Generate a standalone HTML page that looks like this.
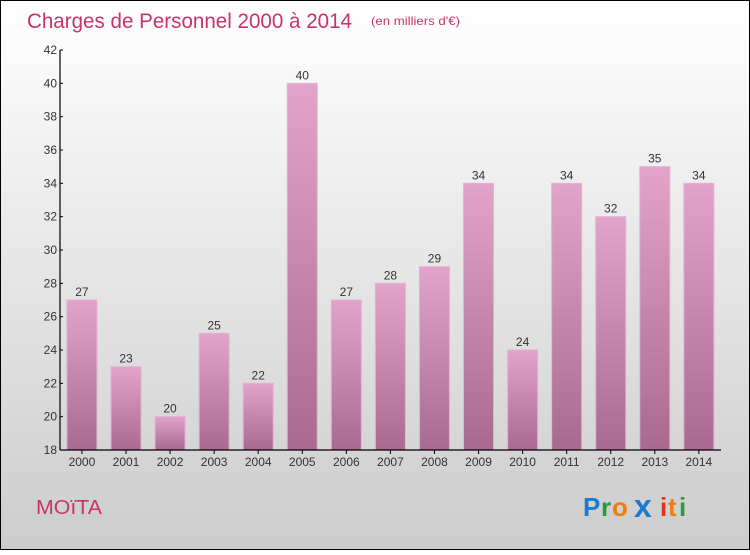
<!DOCTYPE html>
<html><head><meta charset="utf-8"><style>
html,body{margin:0;padding:0}
body{width:750px;height:550px;overflow:hidden;font-family:"Liberation Sans",sans-serif}
</style></head><body>
<svg width="750" height="550" xmlns="http://www.w3.org/2000/svg">
<defs>
<linearGradient id="bg" x1="0" y1="0" x2="0" y2="1"><stop offset="0" stop-color="#ffffff"/><stop offset="1" stop-color="#cccccc"/></linearGradient>
<linearGradient id="bar" x1="0" y1="0" x2="0" y2="1"><stop offset="0" stop-color="#e2a4cb"/><stop offset="1" stop-color="#a86a90"/></linearGradient>
</defs>
<rect x="0.5" y="0.5" width="749" height="549" fill="url(#bg)" stroke="#000"/>
<text x="27" y="28" font-size="21" fill="#c8336b" textLength="325" lengthAdjust="spacingAndGlyphs">Charges de Personnel 2000 à 2014</text>
<text x="371" y="25" font-size="12" fill="#c8336b" textLength="89" lengthAdjust="spacingAndGlyphs">(en milliers d'€)</text>
<g id="bars"></g>
<g id="axes"></g>
<text x="36" y="514" font-size="20" fill="#c8336b" textLength="66" lengthAdjust="spacingAndGlyphs">MOïTA</text>
<g font-size="26" font-weight="bold">
<text x="583" y="516" fill="#1a7bd0">P</text><text x="601" y="516" fill="#2a9a3a">r</text><text x="612" y="516" fill="#f07d10">o</text><text x="634" y="517" fill="#1a7bd0" font-size="32">x</text><text x="660" y="516" fill="#e03020">i</text><text x="668" y="516" fill="#f07d10">t</text><text x="679" y="516" fill="#2a9a3a">i</text>
</g>
</svg>
<script>
const years=["2000","2001","2002","2003","2004","2005","2006","2007","2008","2009","2010","2011","2012","2013","2014"];
const values=[27,23,20,25,22,40,27,28,29,34,24,34,32,35,34];
const yTicks=[18,20,22,24,26,28,30,32,34,36,38,40,42];
const NS="http://www.w3.org/2000/svg";
const x0=60,x1=721,yTop=50,yBot=450,yMin=18,yMax=42;
const step=(x1-x0)/years.length;
const yS=v=>yBot-(v-yMin)/(yMax-yMin)*(yBot-yTop);
const xC=i=>x0+step*(i+0.5)-0.1;
function mk(t,a,p){const e=document.createElementNS(NS,t);for(const k in a)e.setAttribute(k,a[k]);p.appendChild(e);return e;}
const gb=document.getElementById('bars'),ga=document.getElementById('axes');
values.forEach((v,i)=>{
 const r=mk('rect',{x:xC(i)-15,y:yS(v),width:30,height:yBot-yS(v),fill:'url(#bar)',stroke:'#e6b0d2','stroke-width':1},gb);
 
 
 const t=mk('text',{x:xC(i),y:yS(v)-4,'text-anchor':'middle','font-size':12,fill:'#333'},gb);t.textContent=v;
 
 
 const xl=mk('text',{x:xC(i),y:466,'text-anchor':'middle','font-size':12,fill:'#333'},ga);xl.textContent=years[i];
 
 
 mk('line',{x1:xC(i),x2:xC(i),y1:yBot,y2:yBot+4,stroke:'#000'},ga);
});
const yl=mk('line',{x1:x0,x2:x0,y1:yTop,y2:yBot,stroke:'#000','stroke-width':1.2},ga);


const xa=mk('line',{x1:x0,x2:x1,y1:yBot,y2:yBot,stroke:'#000','stroke-width':1.2},ga);


yTicks.forEach(v=>{
 mk('line',{x1:x0,x2:x0+3,y1:yS(v),y2:yS(v),stroke:'#000'},ga);
 const t=mk('text',{x:x0-3,y:yS(v)+4,'text-anchor':'end','font-size':12,fill:'#333'},ga);t.textContent=v;
 
 
});
</script>
</body></html>
